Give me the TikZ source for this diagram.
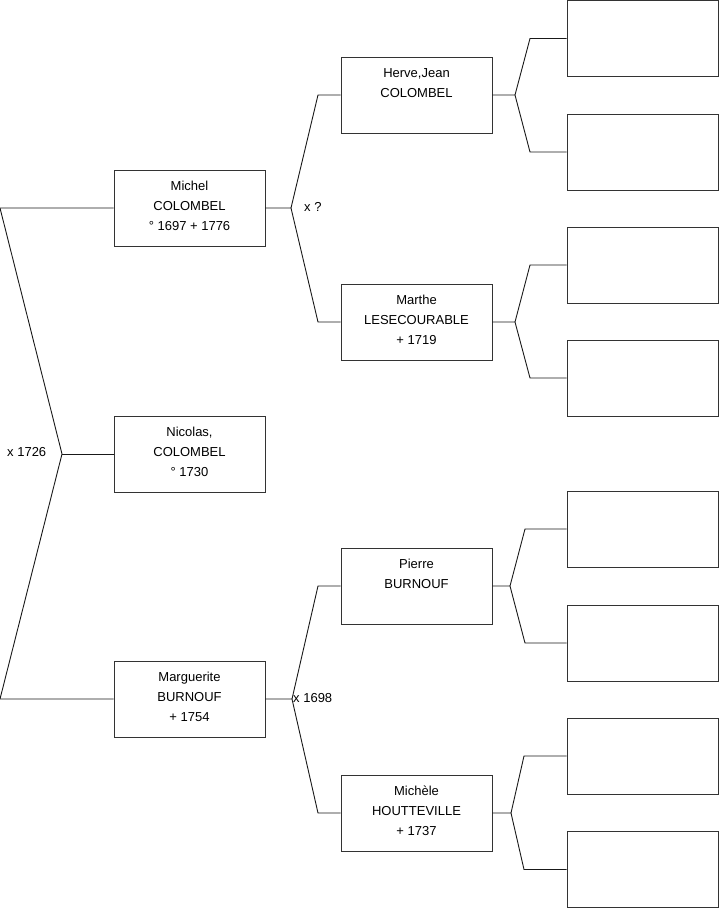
\documentclass[tikz,border=0pt]{standalone}
\usepackage{fontspec}
\setmainfont{Liberation Sans}
\usetikzlibrary{calc}
\begin{document}
\begin{tikzpicture}[x=1pt,y=-1pt,
  pbox/.style={draw=black!80,line width=0.9pt,rectangle,minimum width=151pt,minimum height=76pt,inner sep=0pt},
  txt/.style={anchor=north,inner sep=0pt,align=center,font=\fontsize{13}{20}\selectfont},
  lbl/.style={anchor=west,inner sep=0pt,font=\fontsize{13}{16}\selectfont},
  link/.style={draw=black!90,line width=0.9pt}]
\useasboundingbox (0,0) rectangle (719,908);
% generation 1
\node[pbox] (michel) at (189.5,208) {};
\node[pbox] (nicolas) at (189.5,454) {};
\node[pbox] (marg) at (189.5,699) {};
% generation 2
\node[pbox] (herve) at (416.5,95) {};
\node[pbox] (marthe) at (416.5,322) {};
\node[pbox] (pierre) at (416.5,586) {};
\node[pbox] (michele) at (416.5,813) {};
% generation 3
\node[pbox] (g1) at (642.5,38.5) {};
\node[pbox] (g2) at (642.5,152) {};
\node[pbox] (g3) at (642.5,265) {};
\node[pbox] (g4) at (642.5,378) {};
\node[pbox] (g5) at (642.5,529) {};
\node[pbox] (g6) at (642.5,643) {};
\node[pbox] (g7) at (642.5,756) {};
\node[pbox] (g8) at (642.5,869.5) {};
% texts
\node[txt] (tmichel) at ($(michel.north)+(0,7)$) {\strut Michel\\\strut COLOMBEL\\\strut ° 1697 + 1776};
\node[txt] (tnicolas) at ($(nicolas.north)+(0,7)$) {\strut Nicolas,\\\strut COLOMBEL\\\strut ° 1730};
\node[txt] (tmarg) at ($(marg.north)+(0,7)$) {\strut Marguerite\\\strut BURNOUF\\\strut + 1754};
\node[txt] (therve) at ($(herve.north)+(0,7)$) {\strut Herve,Jean\\\strut COLOMBEL};
\node[txt] (tmarthe) at ($(marthe.north)+(0,7)$) {\strut Marthe\\\strut LESECOURABLE\\\strut + 1719};
\node[txt] (tpierre) at ($(pierre.north)+(0,7)$) {\strut Pierre\\\strut BURNOUF};
\node[txt] (tmichele) at ($(michele.north)+(0,7)$) {\strut Michèle\\\strut HOUTTEVILLE\\\strut + 1737};
% fork points
\coordinate (fl) at (62,454);
\coordinate (fm) at (291,208);
\coordinate (fg) at (292,699);
\coordinate (fh) at (515,95);
\coordinate (fma) at (515,322);
\coordinate (fp) at (510,586);
\coordinate (fmi) at (511,813);
% connectors
\draw[link] (michel.west) -- (0,208) -- (fl) -- (0,699) -- (marg.west);
\draw[link] (fl) -- (nicolas.west);
\draw[link] (michel.east) -- (fm) -- (318,95) -- (herve.west);
\draw[link] (fm) -- (318,322) -- (marthe.west);
\draw[link] (marg.east) -- (fg) -- (318,586) -- (pierre.west);
\draw[link] (fg) -- (318,813) -- (michele.west);
\draw[link] (herve.east) -- (fh) -- (530,38.5) -- (g1.west);
\draw[link] (fh) -- (530,152) -- (g2.west);
\draw[link] (marthe.east) -- (fma) -- (530,265) -- (g3.west);
\draw[link] (fma) -- (530,378) -- (g4.west);
\draw[link] (pierre.east) -- (fp) -- (525,529) -- (g5.west);
\draw[link] (fp) -- (525,643) -- (g6.west);
\draw[link] (michele.east) -- (fmi) -- (524,756) -- (g7.west);
\draw[link] (fmi) -- (524,869.5) -- (g8.west);
% marriage labels
\node[lbl] (l1726) at (7,452) {x 1726};
\node[lbl] (lq) at (304,207) {x ?};
\node[lbl] (l1698) at (293,698) {x 1698};
\end{tikzpicture}
\end{document}
